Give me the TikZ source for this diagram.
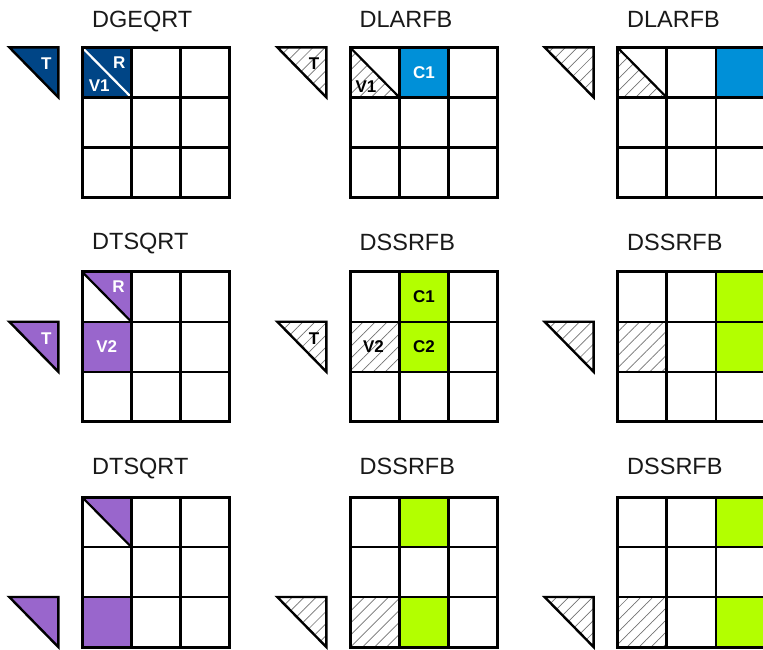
\documentclass[tikz,border=0pt]{standalone}
\usepackage{fontspec}
\setmainfont{Liberation Sans}
\usetikzlibrary{patterns.meta}
\definecolor{dkblue}{HTML}{004586}
\definecolor{ltblue}{HTML}{0090D8}
\definecolor{purp}{HTML}{9966CC}
\definecolor{limeg}{HTML}{B3FF00}
\tikzset{
  ttl/.style={font=\fontsize{23.5}{26}\selectfont, anchor=base west, inner sep=0pt, text=black!90},
  lbl/.style={font=\fontsize{17}{19}\selectfont\bfseries, inner sep=0pt},
  wlbl/.style={lbl, text=white},
  hatch/.style={pattern={Lines[angle=45,distance=8.5pt,line width=0.7pt]}, pattern color=black!55},
  tri/.style={line width=2.4pt, line join=miter},
  gridline/.style={line width=2.4pt},
  outerline/.style={line width=3pt},
  diag/.style={line width=2.2pt},
}
\newcommand\drawmygrid{%
  \foreach \i in {1,2} {%
    \draw[gridline] (\i*49.3,0) -- (\i*49.3,150);
    \draw[gridline] (0,\i*50) -- (147.9,\i*50);}
  \draw[outerline] (0,0) rectangle (147.9,150);}
\newcommand\cellrect[3]{(#1*49.3,#2*50) rectangle ++(49.3,50)}
\newcommand\mytri[1]{(-72.7,#1*50) -- (-23.7,#1*50) -- (-23.7,#1*50+50) -- cycle}
\begin{document}
\begin{tikzpicture}[x=1pt,y=-1pt]
\useasboundingbox (0,0) rectangle (763,649);
\fill[white] (0,0) rectangle (763,649);
\clip (0,0) rectangle (763,649);

% ---------- Row 1 ----------
\node[ttl] (ti11) at (92,27) {DGEQRT};
\begin{scope}[shift={(82,47.3)}]
  \fill[dkblue] \cellrect{0}{0}{};
  \draw[diag, white] (0,0) -- (49.3,50);
  \drawmygrid
  \fill[dkblue, draw=black, tri] \mytri{0};
  \node[wlbl] (T11) at (-35.7,16.5) {T};
  \node[wlbl] (R11) at (37.3,15.4) {R};
  \node[wlbl] (V11) at (17.3,38) {V1};
\end{scope}

\node[ttl] (ti12) at (359.5,27) {DLARFB};
\begin{scope}[shift={(350,47.3)}]
  \fill[hatch] (0,0) -- (0,50) -- (49.3,50) -- cycle;
  \fill[ltblue] \cellrect{1}{0}{};
  \draw[diag] (0,0) -- (49.3,50);
  \drawmygrid
  \filldraw[hatch, tri] \mytri{0};
  \node[lbl] (T12) at (-36,16.5) {T};
  \node[lbl] (V12) at (16,39) {V1};
  \node[wlbl] (C12) at (73.95,25) {C1};
\end{scope}

\node[ttl] (ti13) at (627,27) {DLARFB};
\begin{scope}[shift={(617.3,47.3)}]
  \fill[hatch] (0,0) -- (0,50) -- (49.3,50) -- cycle;
  \fill[ltblue] \cellrect{2}{0}{};
  \draw[diag] (0,0) -- (49.3,50);
  \drawmygrid
  \filldraw[hatch, tri] \mytri{0};
\end{scope}

% ---------- Row 2 ----------
\node[ttl] (ti21) at (92,249) {DTSQRT};
\begin{scope}[shift={(82,271.7)}]
  \fill[purp] (0,0) -- (49.3,0) -- (49.3,50) -- cycle;
  \fill[purp] \cellrect{0}{1}{};
  \draw[diag] (0,0) -- (49.3,50);
  \drawmygrid
  \fill[purp, draw=black, tri] \mytri{1};
  \node[wlbl] (T21) at (-35.7,66.5) {T};
  \node[wlbl] (R21) at (36.5,15) {R};
  \node[wlbl] (V21) at (24.65,75) {V2};
\end{scope}

\node[ttl] (ti22) at (359.5,250.5) {DSSRFB};
\begin{scope}[shift={(350,271.7)}]
  \fill[hatch] \cellrect{0}{1}{};
  \fill[limeg] \cellrect{1}{0}{};
  \fill[limeg] \cellrect{1}{1}{};
  \drawmygrid
  \filldraw[hatch, tri] \mytri{1};
  \node[lbl] (T22) at (-36,66.5) {T};
  \node[lbl] (V22) at (23.5,75) {V2};
  \node[lbl] (C122) at (73.95,25) {C1};
  \node[lbl] (C222) at (73.95,75) {C2};
\end{scope}

\node[ttl] (ti23) at (627,250.5) {DSSRFB};
\begin{scope}[shift={(617.3,271.7)}]
  \fill[hatch] \cellrect{0}{1}{};
  \fill[limeg] \cellrect{2}{0}{};
  \fill[limeg] \cellrect{2}{1}{};
  \drawmygrid
  \filldraw[hatch, tri] \mytri{1};
\end{scope}

% ---------- Row 3 ----------
\node[ttl] (ti31) at (92,474) {DTSQRT};
\begin{scope}[shift={(82,497)}]
  \fill[purp] (0,0) -- (49.3,0) -- (49.3,50) -- cycle;
  \fill[purp] \cellrect{0}{2}{};
  \draw[diag] (0,0) -- (49.3,50);
  \drawmygrid
  \fill[purp, draw=black, tri] \mytri{2};
\end{scope}

\node[ttl] (ti32) at (359.5,474.5) {DSSRFB};
\begin{scope}[shift={(350,497)}]
  \fill[hatch] \cellrect{0}{2}{};
  \fill[limeg] \cellrect{1}{0}{};
  \fill[limeg] \cellrect{1}{2}{};
  \drawmygrid
  \filldraw[hatch, tri] \mytri{2};
\end{scope}

\node[ttl] (ti33) at (627,474.5) {DSSRFB};
\begin{scope}[shift={(617.3,497)}]
  \fill[hatch] \cellrect{0}{2}{};
  \fill[limeg] \cellrect{2}{0}{};
  \fill[limeg] \cellrect{2}{2}{};
  \drawmygrid
  \filldraw[hatch, tri] \mytri{2};
\end{scope}
\end{tikzpicture}
\end{document}
